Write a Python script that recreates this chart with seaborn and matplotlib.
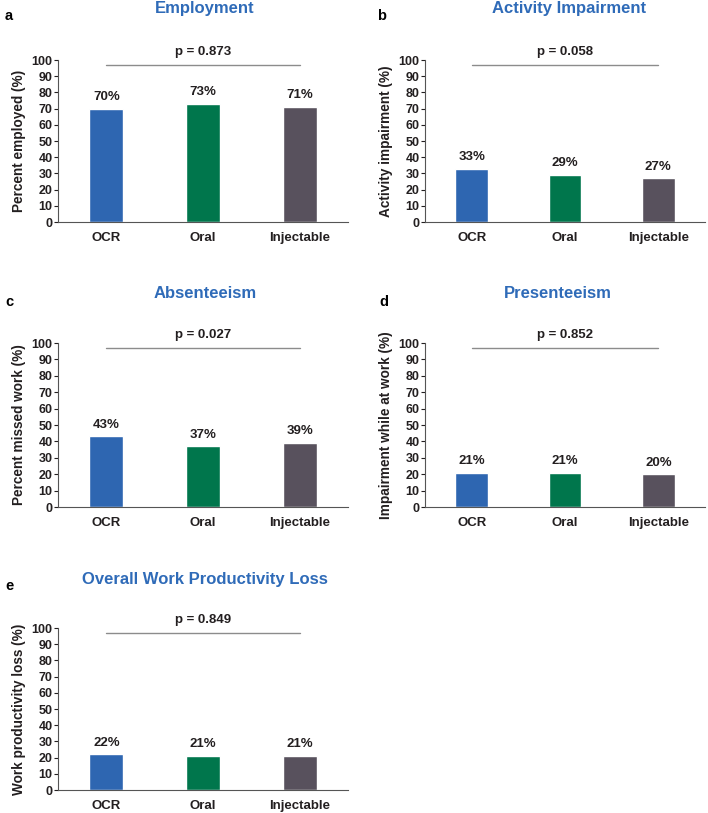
import numpy as np
import pandas as pd
import seaborn as sns
import matplotlib.pyplot as plt

# data
groups = ['OCR', 'Oral', 'Injectable']
employment = [70, 73, 71]
activity = [33, 29, 27]
absenteeism = [43, 37, 39]
presenteeism = [21, 21, 20]
productivity = [22, 21, 21]

titles = ['Employment', 'Activity Impairment', 'Absenteeism', 'Presenteeism',
          'Overall Work Productivity Loss']
ylabels = ['Percent employed (%)', 'Activity impairment (%)', 'Percent missed work (%)',
           'Impairment while at work (%)', 'Work productivity loss (%)']
pvals = ['p = 0.873', 'p = 0.058', 'p = 0.027', 'p = 0.852', 'p = 0.849']
letters = ['a', 'b', 'c', 'd', 'e']
values = [employment, activity, absenteeism, presenteeism, productivity]

bar_colors = ['#2E66B1', '#00764C', '#58515D']
title_color = '#2F6BB8'
text_color = '#231F20'

sns.set_style('white')
plt.rcParams['font.family'] = ['Liberation Sans', 'DejaVu Sans']
plt.rcParams['font.weight'] = 'bold'

W, H = 708, 813
fig = plt.figure(figsize=(W / 100, H / 100), dpi=100)

# axes boxes in pixels: left, top, width, height
boxes = [(58, 60, 290, 162), (425, 60, 280, 162),
         (58, 343, 290, 164), (425, 343, 280, 164),
         (58, 628, 290, 162)]
title_pos = [(205, 9), (569, 9), (205, 293), (558, 293), (205, 579)]
letter_pos = [(5, 16), (377, 16), (5, 302), (379, 302), (5, 586)]

for i in range(5):
    l, t, w, h = boxes[i]
    ax = fig.add_axes([l / W, 1 - (t + h) / H, w / W, h / H])
    df = pd.DataFrame({'group': groups, 'value': values[i]})
    sns.barplot(data=df, x='group', y='value', hue='group', palette=bar_colors,
                width=0.35, legend=False, ax=ax, saturation=1)
    ax.set_ylim(0, 100)
    ax.set_xlim(-0.5, 2.5)
    ax.set_yticks(np.arange(0, 101, 10))
    ax.set_xlabel('')
    ax.set_ylabel(ylabels[i], fontsize=9.8, fontweight='bold', color=text_color, labelpad=4)
    ax.tick_params(axis='y', labelsize=9, colors=text_color, length=3, width=0.8,
                   direction='out', left=True, pad=1)
    ax.tick_params(axis='x', labelsize=9.5, colors=text_color, length=0, pad=7)
    for lab in ax.get_xticklabels() + ax.get_yticklabels():
        lab.set_fontweight('bold')
    for s in ['top', 'right']:
        ax.spines[s].set_visible(False)
    for s in ['left', 'bottom']:
        ax.spines[s].set_color('#555555')
        ax.spines[s].set_linewidth(0.8)

    for j, v in enumerate(values[i]):
        ax.annotate(f'{v}%', (j, v), xytext=(0, 4), textcoords='offset points',
                    ha='center', va='bottom', fontsize=9.5, fontweight='bold',
                    color=text_color)

    ax.plot([0, 2], [97, 97], color='#8C8C8C', lw=1.0, clip_on=False)
    ax.text(1, 101.5, pvals[i], ha='center', va='bottom', fontsize=9.5,
            fontweight='bold', color=text_color, clip_on=False)

    tx, ty = title_pos[i]
    fig.text(tx / W, 1 - ty / H, titles[i], ha='center', va='center', fontsize=12,
             fontweight='bold', color=title_color)
    lx, ly = letter_pos[i]
    fig.text(lx / W, 1 - ly / H, letters[i], ha='left', va='center', fontsize=10.5,
             fontweight='bold', color='black')

fig.savefig('out.png', dpi=100)
